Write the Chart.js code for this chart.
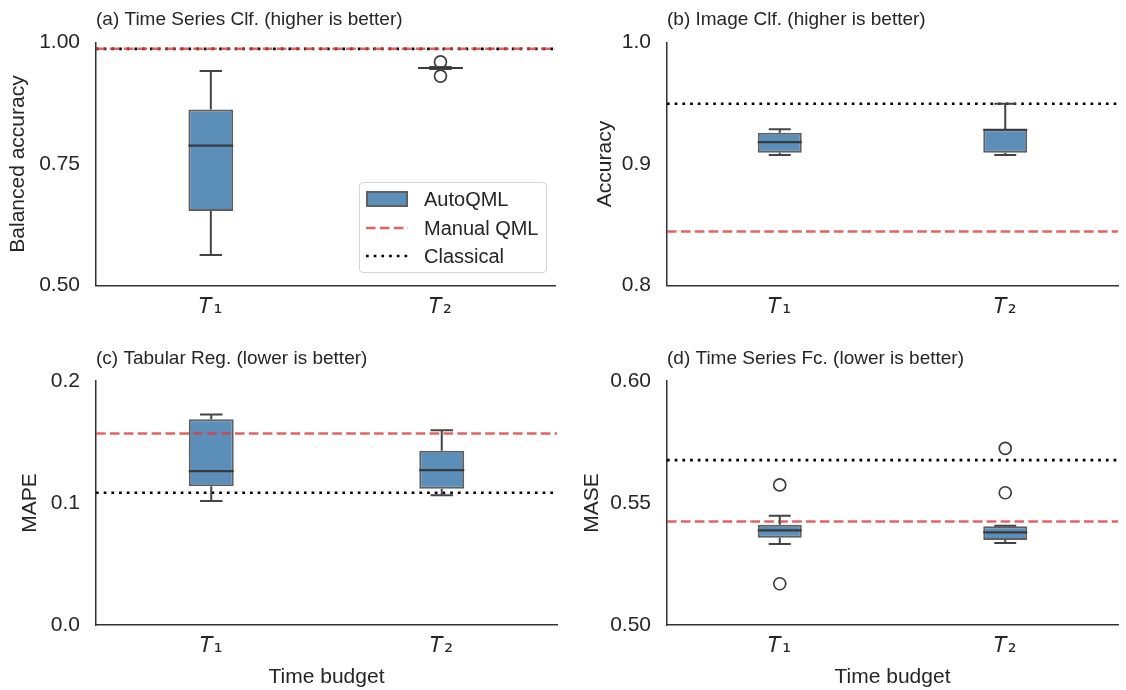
<!DOCTYPE html>
<html>
<head>
<meta charset="utf-8">
<script src="https://cdn.jsdelivr.net/npm/chart.js@4.4.1/dist/chart.umd.min.js"></script>
<style>
html, body { margin: 0; padding: 0; background: #ffffff; }
#wrap { position: relative; width: 1126px; height: 690px; overflow: hidden; font-family: "Liberation Sans", Arial, sans-serif; color: #262626; }
canvas { position: absolute; }
#legend { position: absolute; left: 359px; top: 182px; width: 188px; height: 91px; box-sizing: border-box; border: 1px solid #d4d4d4; border-radius: 4px; background: rgba(255,255,255,0.85); font-size: 20px; }
.row { position: absolute; left: 6px; height: 24px; display: flex; align-items: center; white-space: nowrap; }
.row span { margin-left: 16px; }
</style>
</head>
<body>
<div id="wrap">
  <canvas id="pa" width="563" height="345" style="left:0;top:0"></canvas>
  <canvas id="pb" width="563" height="345" style="left:563px;top:0"></canvas>
  <canvas id="pc" width="563" height="345" style="left:0;top:345px"></canvas>
  <canvas id="pd" width="563" height="345" style="left:563px;top:345px"></canvas>
  <div id="legend">
    <div class="row" style="top:4px"><svg width="42" height="16"><rect x="1" y="1" width="40" height="14" fill="#5b8fb9" stroke="#5f5f5f" stroke-width="2"/></svg><span>AutoQML</span></div>
    <div class="row" style="top:33px"><svg width="42" height="16"><line x1="0" y1="8" x2="42" y2="8" stroke="rgba(220,60,60,0.8)" stroke-width="2.6" stroke-dasharray="9.6 4.3"/></svg><span>Manual QML</span></div>
    <div class="row" style="top:61px"><svg width="42" height="16"><line x1="0" y1="8" x2="42" y2="8" stroke="#000" stroke-width="2.7" stroke-dasharray="2.7 5"/></svg><span>Classical</span></div>
  </div>
</div>
<script>
// ---------- data ----------
const timeBudgets = ['𝑇₁', '𝑇₂'];

// (a) Time Series Classification - balanced accuracy
const tsClfMin      = [0.5626, 0.9455];
const tsClfQ1       = [0.6535, 0.9465];
const tsClfMedian   = [0.7880, 0.9475];
const tsClfQ3       = [0.8620, 0.9485];
const tsClfMax      = [0.9415, 0.9495];
const tsClfOutliers = [[], [0.960, 0.931]];
const tsClfManual    = 0.987;
const tsClfClassical = 0.987;
const tsClfTicks      = [0.50, 0.75, 1.00];
const tsClfTickLabels = ['0.50', '0.75', '1.00'];

// (b) Image Classification - accuracy
const imgClfMin      = [0.9074, 0.9074];
const imgClfQ1       = [0.9093, 0.9093];
const imgClfMedian   = [0.9180, 0.9282];
const imgClfQ3       = [0.9258, 0.9285];
const imgClfMax      = [0.9285, 0.9496];
const imgClfOutliers = [[], []];
const imgClfManual    = 0.8444;
const imgClfClassical = 0.9496;
const imgClfTicks      = [0.8, 0.9, 1.0];
const imgClfTickLabels = ['0.8', '0.9', '1.0'];

// (c) Tabular Regression - MAPE
const tabRegMin      = [0.1016, 0.1063];
const tabRegQ1       = [0.1137, 0.1117];
const tabRegMedian   = [0.1262, 0.1270];
const tabRegQ3       = [0.1687, 0.1428];
const tabRegMax      = [0.1725, 0.1597];
const tabRegOutliers = [[], []];
const tabRegManual    = 0.1570;
const tabRegClassical = 0.1084;
const tabRegTicks      = [0.0, 0.1, 0.2];
const tabRegTickLabels = ['0.0', '0.1', '0.2'];

// (d) Time Series Forecasting - MASE
const tsFcMin      = [0.5332, 0.5336];
const tsFcQ1       = [0.5358, 0.5348];
const tsFcMedian   = [0.5388, 0.5380];
const tsFcQ3       = [0.5411, 0.5405];
const tsFcMax      = [0.5448, 0.5407];
const tsFcOutliers = [[0.5574, 0.5169], [0.5724, 0.5542]];
const tsFcManual    = 0.5424;
const tsFcClassical = 0.5676;
const tsFcTicks      = [0.50, 0.55, 0.60];
const tsFcTickLabels = ['0.50', '0.55', '0.60'];

// ---------- styling ----------
const FONT = '"Liberation Sans", Arial, sans-serif';
const TEXT = '#262626';
const BOX_FILL = '#5b8fb9';
const BOX_EDGE = '#5f5f5f';
const WHISKER = '#444444';
const MANUAL_COLOR = 'rgba(220,60,60,0.8)';
const CLASSICAL_COLOR = '#000000';

const boxWhiskers = {
  id: 'boxWhiskers',
  afterDatasetsDraw(chart, args, opts) {
    const ctx = chart.ctx;
    const y = chart.scales.y;
    const meta = chart.getDatasetMeta(0);
    ctx.save();
    ctx.lineCap = 'butt';
    meta.data.forEach((bar, i) => {
      const cx = bar.x;
      const half = bar.width / 2;
      const capHalf = half / 2;
      const pMin = y.getPixelForValue(opts.min[i]);
      const pQ1 = y.getPixelForValue(opts.q1[i]);
      const pMed = y.getPixelForValue(opts.median[i]);
      const pQ3 = y.getPixelForValue(opts.q3[i]);
      const pMax = y.getPixelForValue(opts.max[i]);
      ctx.strokeStyle = WHISKER;
      ctx.lineWidth = 2;
      ctx.beginPath();
      ctx.moveTo(cx, pQ3); ctx.lineTo(cx, pMax);
      ctx.moveTo(cx, pQ1); ctx.lineTo(cx, pMin);
      ctx.moveTo(cx - capHalf, pMax); ctx.lineTo(cx + capHalf, pMax);
      ctx.moveTo(cx - capHalf, pMin); ctx.lineTo(cx + capHalf, pMin);
      ctx.stroke();
      ctx.strokeStyle = '#3a3a3a';
      ctx.lineWidth = 2.2;
      ctx.beginPath();
      ctx.moveTo(cx - half, pMed); ctx.lineTo(cx + half, pMed);
      ctx.stroke();
    });
    ctx.restore();
  }
};

function makePanel(id, p) {
  const outlierPoints = [];
  p.outliers.forEach((arr, i) => arr.forEach(v => outlierPoints.push({ x: timeBudgets[i], y: v })));
  const refLine = (v, color, dash, width) => ({
    type: 'line', xAxisID: 'xr', yAxisID: 'y', order: 0,
    data: [{ x: 0, y: v }, { x: 1, y: v }],
    borderColor: color, borderDash: dash, borderWidth: width,
    pointRadius: 0, fill: false, tension: 0
  });
  return new Chart(document.getElementById(id), {
    type: 'bar',
    data: {
      labels: timeBudgets,
      datasets: [
        {
          type: 'bar', label: 'AutoQML', order: 2, grouped: false,
          data: p.q1.map((v, i) => [v, p.q3[i]]),
          backgroundColor: BOX_FILL, borderColor: BOX_EDGE, borderWidth: 2,
          borderSkipped: false, barPercentage: 0.195, categoryPercentage: 1
        },
        {
          type: 'line', label: 'outliers', order: 1, xAxisID: 'x',
          data: outlierPoints, showLine: false,
          pointRadius: 6, pointBorderWidth: 1.7, pointBorderColor: '#3d3d3d',
          pointBackgroundColor: 'rgba(0,0,0,0)'
        },
        refLine(p.manual, MANUAL_COLOR, [9.6, 4.3], 2.6),
        refLine(p.classical, CLASSICAL_COLOR, [2.7, 5], 2.7)
      ]
    },
    options: {
      responsive: false,
      animation: false,
      layout: { padding: { left: 0, right: p.padRight, top: 0, bottom: 0 } },
      plugins: {
        legend: { display: false },
        tooltip: { enabled: false },
        title: {
          display: true, text: p.title, align: 'start', fullSize: false,
          font: { family: FONT, size: 19, weight: 'normal' }, color: TEXT,
          padding: { top: p.titleTop, bottom: p.titleBottom }
        },
        boxWhiskers: { min: p.min, q1: p.q1, median: p.median, q3: p.q3, max: p.max }
      },
      scales: {
        x: {
          type: 'category', offset: true,
          grid: { display: false, drawTicks: false, offset: true },
          border: { display: true, color: '#333333', width: 1.5 },
          ticks: { font: { family: '"DejaVu Sans"', size: 22 }, color: TEXT, padding: 8.5, maxRotation: 0, autoSkip: false },
          title: { display: !!p.xTitle, text: p.xTitle || '', font: { family: FONT, size: 21 }, color: TEXT, padding: { top: 0, bottom: 0 } },
          afterFit: s => { s.height = p.xHeight; }
        },
        xr: { type: 'linear', axis: 'x', position: 'bottom', min: 0, max: 1, offset: false, display: false,
              grid: { offset: false } },
        y: {
          type: 'linear', min: p.ticks[0], max: p.ticks[p.ticks.length - 1],
          afterBuildTicks: s => { s.ticks = p.ticks.map(v => ({ value: v })); },
          grid: { display: false, drawTicks: false },
          border: { display: true, color: '#333333', width: 1.5 },
          ticks: { font: { family: FONT, size: 21 }, color: TEXT, padding: 16,
                   callback: (v, i) => p.tickLabels[i] },
          title: { display: true, text: p.yTitle, font: { family: FONT, size: 21 }, color: TEXT,
                   padding: { top: p.yTitlePad, bottom: 0 } },
          afterFit: s => { s.width = p.yWidth; }
        }
      }
    },
    plugins: [boxWhiskers]
  });
}

makePanel('pa', {
  title: '(a) Time Series Clf. (higher is better)', yTitle: 'Balanced accuracy',
  min: tsClfMin, q1: tsClfQ1, median: tsClfMedian, q3: tsClfQ3, max: tsClfMax, outliers: tsClfOutliers,
  manual: tsClfManual, classical: tsClfClassical, ticks: tsClfTicks, tickLabels: tsClfTickLabels,
  yWidth: 96, yTitlePad: 5.4, padRight: 6, xHeight: 59.5, titleTop: 8.5, titleBottom: 11.2
});
makePanel('pb', {
  title: '(b) Image Clf. (higher is better)', yTitle: 'Accuracy',
  min: imgClfMin, q1: imgClfQ1, median: imgClfMedian, q3: imgClfQ3, max: imgClfMax, outliers: imgClfOutliers,
  manual: imgClfManual, classical: imgClfClassical, ticks: imgClfTicks, tickLabels: imgClfTickLabels,
  yWidth: 104, yTitlePad: 29.4, padRight: 8, xHeight: 59.5, titleTop: 8.5, titleBottom: 11.2
});
makePanel('pc', {
  title: '(c) Tabular Reg. (lower is better)', yTitle: 'MAPE', xTitle: 'Time budget',
  min: tabRegMin, q1: tabRegQ1, median: tabRegMedian, q3: tabRegQ3, max: tabRegMax, outliers: tabRegOutliers,
  manual: tabRegManual, classical: tabRegClassical, ticks: tabRegTicks, tickLabels: tabRegTickLabels,
  yWidth: 96, yTitlePad: 17.4, padRight: 6, xHeight: 65, titleTop: 2.5, titleBottom: 10.7
});
makePanel('pd', {
  title: '(d) Time Series Fc. (lower is better)', yTitle: 'MASE', xTitle: 'Time budget',
  min: tsFcMin, q1: tsFcQ1, median: tsFcMedian, q3: tsFcQ3, max: tsFcMax, outliers: tsFcOutliers,
  manual: tsFcManual, classical: tsFcClassical, ticks: tsFcTicks, tickLabels: tsFcTickLabels,
  yWidth: 104, yTitlePad: 16.4, padRight: 8, xHeight: 65, titleTop: 2.5, titleBottom: 10.7
});
</script>
</body>
</html>
